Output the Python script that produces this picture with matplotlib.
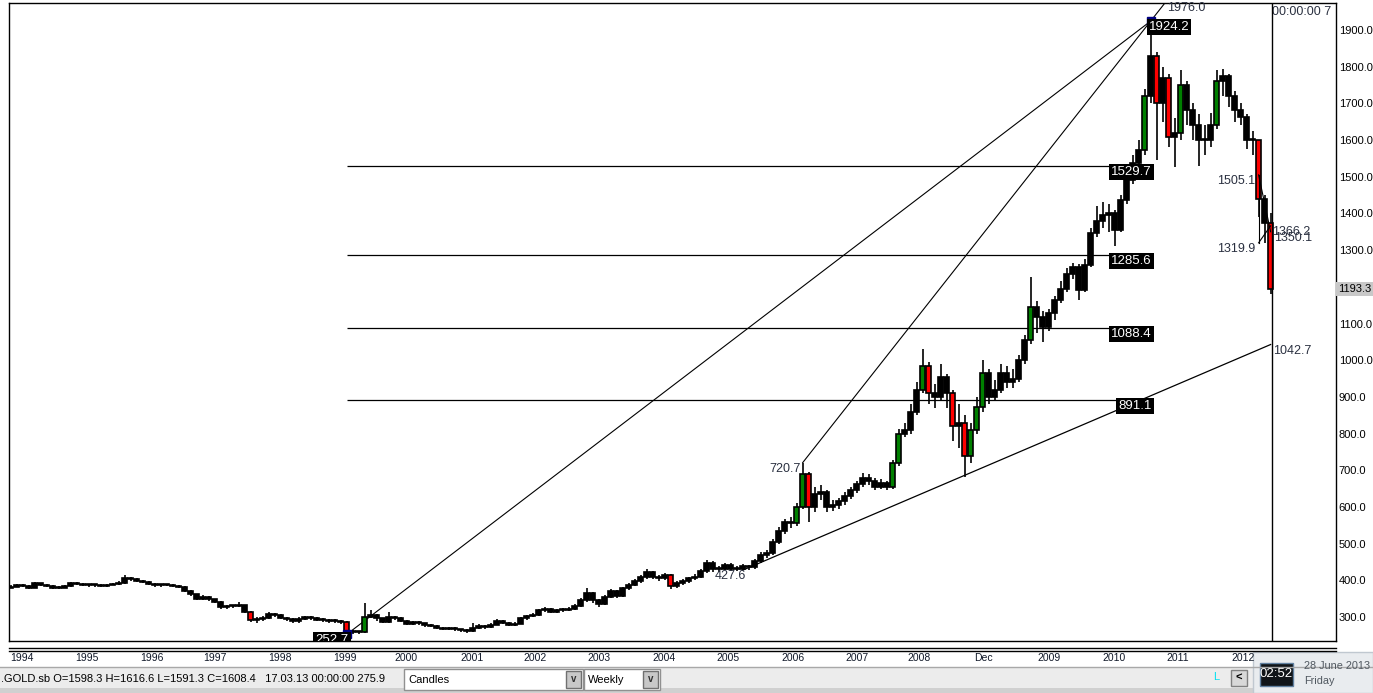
import numpy as np
import matplotlib.pyplot as plt
from matplotlib.patches import Rectangle
from matplotlib import transforms

plt.rcParams['font.family'] = ['Liberation Sans', 'DejaVu Sans']

W, H = 1373, 693

# gold price (.GOLD.sb), one candle per ~6 weeks
first_open = 380
closes = [383, 388, 385, 380, 392, 388, 385, 380, 380, 384,
          392, 390, 388, 386, 386, 385, 388, 390, 393, 405,
          403, 398, 395, 391, 386, 388, 387, 385, 382, 372,
          362, 350, 355, 348, 342, 326, 329, 330, 332, 315,
          292, 294, 298, 308, 305, 298, 294, 288, 295, 299,
          296, 293, 291, 289, 290, 286, 262, 258, 258, 300,
          305, 296, 287, 300, 298, 290, 282, 286, 283, 278,
          276, 270, 268, 270, 266, 264, 262, 270, 276, 272,
          279, 290, 285, 279, 282, 296, 302, 306, 318, 322,
          315, 318, 320, 322, 330, 345, 365, 345, 335, 355,
          370, 358, 378, 388, 398, 408, 422, 410, 405, 415,
          385, 392, 398, 405, 410, 425, 448, 430, 432, 442,
          430, 432, 438, 435, 452, 470, 475, 505, 535, 560,
          555, 600, 690, 600, 635, 640, 600, 605, 615, 630,
          645, 662, 680, 670, 655, 665, 655, 720, 800, 810,
          860, 920, 985, 910, 900, 955, 910, 820, 830, 740,
          810, 873, 964, 900, 920, 964, 940, 950, 1000, 1055,
          1146, 1118, 1091, 1128, 1164, 1195, 1235, 1255, 1191, 1260,
          1346, 1380, 1395, 1400, 1355, 1437, 1491, 1537, 1573, 1720,
          1830, 1700, 1770, 1609, 1620, 1750, 1682, 1640, 1600, 1600,
          1640, 1760, 1775, 1720, 1682, 1664, 1600, 1600, 1440, 1375,
          1193.3]
highs = [387, 391, 390, 387, 395, 394, 391, 388, 384, 387,
         396, 395, 393, 390, 390, 389, 391, 393, 397, 415,
         410, 406, 400, 397, 393, 391, 391, 390, 388, 384,
         374, 364, 360, 357, 350, 344, 333, 334, 340, 334,
         317, 299, 302, 313, 311, 307, 300, 296, 300, 303,
         302, 299, 296, 294, 294, 293, 288, 265, 262, 338,
         318, 308, 298, 314, 304, 300, 292, 290, 289, 285,
         281, 278, 273, 274, 272, 268, 267, 285, 280, 279,
         283, 294, 292, 287, 286, 300, 306, 311, 323, 328,
         325, 323, 325, 328, 336, 352, 380, 368, 348, 360,
         376, 374, 383, 394, 404, 414, 430, 426, 414, 420,
         418, 397, 403, 410, 416, 431, 456, 452, 439, 448,
         446, 438, 444, 443, 458, 478, 483, 512, 545, 568,
         572, 610, 720.7, 695, 655, 660, 646, 618, 625, 640,
         655, 672, 692, 690, 678, 676, 672, 728, 812, 830,
         880, 940, 1030, 995, 935, 990, 962, 920, 880, 850,
         830, 900, 1000, 975, 945, 990, 985, 975, 1015, 1070,
         1226, 1160, 1135, 1140, 1175, 1215, 1250, 1265, 1262, 1275,
         1360, 1420, 1430, 1425, 1410, 1450, 1510, 1560, 1600, 1740,
         1924.2, 1840, 1800, 1780, 1660, 1790, 1760, 1700, 1670, 1640,
         1675, 1790, 1795, 1780, 1735, 1700, 1670, 1625, 1505.1, 1450,
         1400]
lows = [378, 381, 382, 376, 379, 385, 382, 377, 376, 378,
        382, 387, 385, 383, 383, 382, 383, 386, 388, 391,
        399, 395, 392, 388, 383, 383, 384, 382, 379, 369,
        358, 345, 347, 344, 338, 322, 322, 325, 326, 310,
        286, 285, 290, 295, 300, 294, 290, 283, 285, 292,
        292, 289, 287, 285, 285, 281, 252.7, 255, 255, 256,
        296, 290, 283, 285, 292, 286, 278, 279, 279, 274,
        272, 266, 264, 264, 262, 259, 257, 260, 267, 268,
        270, 277, 281, 275, 276, 280, 293, 299, 304, 315,
        310, 311, 314, 316, 319, 327, 342, 338, 328, 332,
        351, 352, 355, 374, 384, 394, 404, 404, 399, 400,
        376, 380, 388, 394, 400, 406, 421, 424, 424, 427,
        425, 425, 427.6, 429, 431, 447, 462, 470, 498, 526,
        542, 548, 595, 560, 585, 620, 585, 590, 595, 605,
        622, 638, 655, 660, 645, 648, 645, 650, 712, 790,
        800, 850, 910, 880, 870, 890, 870, 780, 760, 681,
        720, 800, 860, 880, 890, 910, 925, 925, 940, 990,
        1045, 1075, 1050, 1080, 1110, 1155, 1185, 1220, 1165, 1185,
        1255, 1335, 1360, 1350, 1310, 1350, 1425, 1480, 1525, 1560,
        1700, 1546, 1650, 1580, 1527, 1600, 1640, 1600, 1530, 1560,
        1580, 1630, 1720, 1690, 1650, 1640, 1575, 1560, 1390, 1319.9,
        1180]

year_labels = ['1994', '1995', '1996', '1997', '1998', '1999', '2000', '2001',
               '2002', '2003', '2004', '2005', '2006', '2007', '2008', 'Dec',
               '2009', '2010', '2011', '2012']
year_pos = [-0.1, 10.7, 21.5, 32, 42.9, 53.7, 64, 74.9, 85.5, 96.2, 106.9,
            117.7, 128.4, 139.2, 149.5, 160.5, 171.2, 182, 192.7, 203.4]

# fibonacci retracement of the 1999 low -> 2011 high swing
low_bar, low_val = 56, 252.7
high_bar, high_val = 190, 1924.2
fib_levels = [1529.7, 1285.6, 1088.4, 891.1]

# trend line pivots
peak06_bar, peak06_val = 132, 720.7
ext_val = 1976.0
low05_bar, low05_val = 122, 427.6
sup_end_bar, sup_end_val = 210, 1042.7
drop_bar, drop_hi, drop_lo = 208, 1505.1, 1319.9
end_bar, end_a, end_b = 210, 1366.2, 1350.1

status = '.GOLD.sb O=1598.3 H=1616.6 L=1591.3 C=1608.4   17.03.13 00:00:00 275.9'

fig = plt.figure(figsize=(W / 100, H / 100), dpi=100)
fig.patch.set_facecolor('white')


def fx(x):
    return x / W


def fy(y):
    return 1 - y / H


ax = fig.add_axes([fx(9), fy(641), fx(1336) - fx(9), fy(3) - fy(641)])
ax.set_xlim(-0.3, 220.9)
ax.set_ylim(234.6, 1973.6)
for s in ax.spines.values():
    s.set_color('black')
    s.set_linewidth(1)

# candles
opens = [first_open] + closes[:-1]
n = len(closes)
xs = np.arange(n)
ax.vlines(xs, lows, highs, color='black', lw=1.2, zorder=3)
for i in range(n):
    o, c = opens[i], closes[i]
    if abs(c - o) >= 0.07 * o:
        fc = '#008000' if c >= o else '#ff0000'
    else:
        fc = 'black'
    ax.add_patch(Rectangle((i - 0.42, min(o, c)), 0.84, max(abs(c - o), 3),
                           fc=fc, ec='black', lw=1.2, zorder=4))

# fib levels
ax.hlines(fib_levels, low_bar, high_bar, color='black', lw=0.9, zorder=2)
box = dict(boxstyle='square,pad=0.15', fc='black', ec='none')
for lv in fib_levels:
    ax.text(high_bar + 0.2, lv, f'{lv:.1f}', ha='right', va='top', color='white',
            fontsize=9.5, bbox=box, zorder=6)

# trend lines
ax.plot([low_bar, high_bar], [low_val, high_val], color='black', lw=0.8, zorder=2)
ext_bar = peak06_bar + (ext_val - peak06_val) / (high_val - peak06_val) * (high_bar - peak06_bar)
ax.plot([peak06_bar, ext_bar], [peak06_val, ext_val], color='black', lw=0.8, zorder=2)
ax.plot([low05_bar, sup_end_bar], [low05_val, sup_end_val], color='black', lw=0.9, zorder=2)
ax.plot([drop_bar, drop_bar], [drop_hi, drop_lo], color='black', lw=0.8, zorder=5)
ax.plot([drop_bar, end_bar], [drop_lo, end_a], color='black', lw=0.8, zorder=5)
ax.plot([drop_bar, end_bar], [drop_hi, end_b], color='black', lw=0.8, zorder=5)

# pivot markers
ax.plot([low_bar, high_bar], [low_val, high_val], ls='none', marker='s', ms=6,
        color='#000080', zorder=7)

lab = dict(fontsize=9, color='#2a3040', zorder=6)
ax.text(ext_bar + 0.3, ext_val, f'{ext_val:.1f}', ha='left', va='top', **lab)
ax.text(high_bar - 0.3, high_val, f'{high_val:.1f}', ha='left', va='top', color='white',
        fontsize=9.5, bbox=box, zorder=8)
ax.text(low_bar + 0.3, low_val, f'{low_val:.1f}', ha='right', va='top', color='white',
        fontsize=9.5, bbox=box, zorder=8, clip_on=True)
ax.text(peak06_bar - 0.4, peak06_val, f'{peak06_val:.1f}', ha='right', va='top', **lab)
ax.text(low05_bar + 0.6, low05_val, f'{low05_val:.1f}', ha='right', va='top', **lab)
ax.text(sup_end_bar + 0.4, sup_end_val, f'{sup_end_val:.1f}', ha='left', va='top', **lab)
ax.text(drop_bar - 0.6, drop_hi, f'{drop_hi:.1f}', ha='right', va='top', **lab)
ax.text(drop_bar - 0.6, drop_lo, f'{drop_lo:.1f}', ha='right', va='top', **lab)
ax.text(end_bar + 0.2, end_a, f'{end_a:.1f}', ha='left', va='top', **lab)
ax.text(end_bar + 0.5, end_b, f'{end_b:.1f}', ha='left', va='top', **lab)

# future area separator and timer text
sep = n - 1 + 0.15
ax.axvline(sep, color='black', lw=1, zorder=5)
ax.text(sep + 0.1, 1965, '00:00:00 7', ha='left', va='top', fontsize=9,
        color='#2a3040', clip_on=True)

# price scale
ax.yaxis.tick_right()
ax.set_yticks(range(300, 2000, 100))
ax.set_yticklabels([f'{v:.1f}' for v in range(300, 2000, 100)])
ax.tick_params(axis='y', length=0, pad=2, labelsize=8)
ax.set_xticks([])
pt = transforms.blended_transform_factory(ax.transAxes, ax.transData)
ax.text(1.0015, closes[-1], f'{closes[-1]:.1f}', transform=pt, ha='left', va='center',
        fontsize=8, bbox=dict(boxstyle='square,pad=0.2', fc='#c8c8c8', ec='none'))

# date scale
fig.add_artist(plt.Line2D([fx(9), fx(1336)], [fy(648), fy(648)], color='black', lw=1))
fig.add_artist(plt.Line2D([fx(9), fx(1336)], [fy(651), fy(651)], color='black', lw=1))
bt = transforms.blended_transform_factory(ax.transData, fig.transFigure)
for p, t in zip(year_pos, year_labels):
    fig.text(p, fy(658), t, transform=bt, ha='left', va='center', fontsize=7.5,
             color='#101828')

# status bar
fig.add_artist(Rectangle((0, fy(693)), 1, fy(667) - fy(693), transform=fig.transFigure,
                         fc='#ececec', ec='none'))
fig.add_artist(Rectangle((0, fy(693)), 1, fy(688) - fy(693), transform=fig.transFigure,
                         fc='#d0d0d0', ec='none'))
fig.add_artist(plt.Line2D([0, 1], [fy(667), fy(667)], color='#a8a8a8', lw=1))
fig.text(fx(1), fy(679), status, ha='left', va='center', fontsize=8, color='black')
for x0, x1, t in [(404, 583, 'Candles'), (584, 660, 'Weekly')]:
    fig.add_artist(Rectangle((fx(x0), fy(690)), fx(x1) - fx(x0), fy(669) - fy(690),
                             transform=fig.transFigure, fc='white', ec='#909090', lw=1))
    fig.add_artist(Rectangle((fx(x1 - 17), fy(688)), fx(15), fy(671) - fy(688),
                             transform=fig.transFigure, fc='#c8c8c8', ec='#707070', lw=1))
    fig.text(fx(x1 - 9.5), fy(679.5), 'v', ha='center', va='center', fontsize=7,
             fontweight='bold', color='#303030')
    fig.text(fx(x0 + 4), fy(680), t, ha='left', va='center', fontsize=8)
fig.text(fx(1213), fy(677), 'L', ha='left', va='center', fontsize=8, color='#00e0f0')
fig.add_artist(Rectangle((fx(1231), fy(686)), fx(16), fy(670) - fy(686),
                         transform=fig.transFigure, fc='#d8d8d8', ec='#808080', lw=1))
fig.text(fx(1239), fy(678), '<', ha='center', va='center', fontsize=8, fontweight='bold')

# clock overlay
fig.add_artist(Rectangle((fx(1253), 0), 1 - fx(1253), fy(652), transform=fig.transFigure,
                         fc='#e9ecef', ec='#c0c8d0', lw=1))
fig.add_artist(Rectangle((fx(1260), fy(686)), fx(33), fy(663) - fy(686),
                         transform=fig.transFigure, fc='#101418', ec='#6080a0', lw=1))
fig.text(fx(1276.5), fy(674), '02:52', ha='center', va='center', fontsize=9.5, color='white')
fig.text(fx(1304), fy(666), '28 June 2013', ha='left', va='center', fontsize=7.8,
         color='#505860')
fig.text(fx(1304), fy(681), 'Friday', ha='left', va='center', fontsize=7.8, color='#505860')

fig.savefig('out.png', dpi=100)
